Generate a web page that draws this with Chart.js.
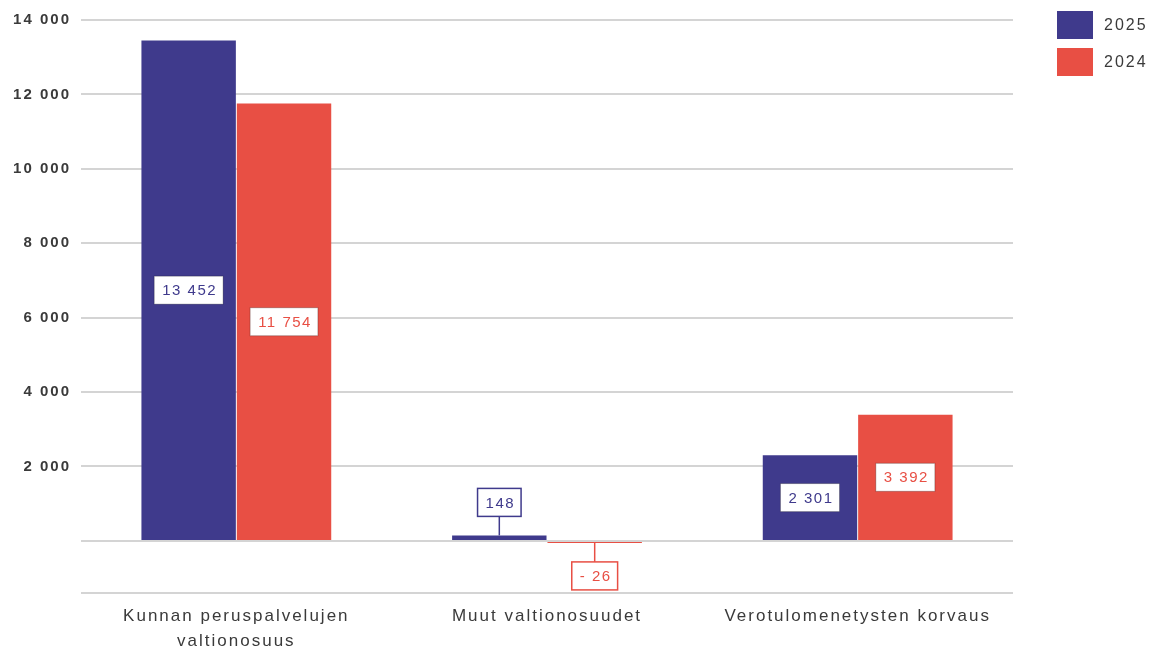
<!DOCTYPE html>
<html>
<head>
<meta charset="utf-8">
<script src="https://cdn.jsdelivr.net/npm/chart.js@4/dist/chart.umd.min.js"></script>
<style>
    html, body { margin: 0; padding: 0; background: #fff; }
    #chart { display: block; }
</style>
</head>
<body>
<canvas id="chart" width="1157" height="653"></canvas>
<script>
const categories = [
    ['Kunnan peruspalvelujen', 'valtionosuus'],
    'Muut valtionosuudet',
    'Verotulomenetysten korvaus'
];
const seriesNames = ['2025', '2024'];
const values2025 = [13452, 148, 2301];
const values2024 = [11754, -26, 3392];
const yTickValues = [-1400, 0, 2000, 4000, 6000, 8000, 10000, 12000, 14000];

const COLORS = {
    blue: '#3f3a8c',
    red: '#e84f44',
    grid: '#d4d4d4',
    text: '#3a3a3a'
};
const FONT = '"Liberation Sans", Arial, sans-serif';
const SPACING = '2px';

const fmt = (v) => {
    const s = Math.abs(v).toString().replace(/\B(?=(\d{3})+(?!\d))/g, ' ');
    return v < 0 ? '- ' + s : s;
};

// canvas letter spacing gets reset whenever the canvas resizes
const spacingPlugin = {
    id: 'spacing',
    beforeLayout(chart) { chart.ctx.letterSpacing = SPACING; },
    beforeDraw(chart) { chart.ctx.letterSpacing = SPACING; }
};

const valueLabels = {
    id: 'valueLabels',
    afterDatasetsDraw(chart) {
        const ctx = chart.ctx;
        ctx.save();
        ctx.font = `15px ${FONT}`;
        ctx.letterSpacing = '1.5px';
        ctx.textAlign = 'center';
        ctx.textBaseline = 'middle';
        chart.data.datasets.forEach((ds, i) => {
            const meta = chart.getDatasetMeta(i);
            meta.data.forEach((bar, j) => {
                const v = ds.data[j];
                const text = fmt(v);
                const w = ctx.measureText(text).width + 14;
                const h = 28;
                const x = bar.x;
                let cy;
                const inside = Math.abs(bar.base - bar.y) > 60;
                if (inside) {
                    cy = (bar.y + bar.base) / 2;
                } else if (v >= 0) {
                    cy = bar.y - 19 - h / 2;
                } else {
                    cy = bar.y + 19 + h / 2;
                }
                if (!inside) {
                    ctx.strokeStyle = ds.backgroundColor;
                    ctx.lineWidth = 1.5;
                    ctx.beginPath();
                    ctx.moveTo(x, bar.y);
                    ctx.lineTo(x, v >= 0 ? cy + h / 2 : cy - h / 2);
                    ctx.stroke();
                }
                ctx.fillStyle = '#fff';
                ctx.fillRect(x - w / 2, cy - h / 2, w, h);
                ctx.strokeStyle = inside ? 'rgba(0,0,0,0.25)' : ds.backgroundColor;
                ctx.lineWidth = inside ? 1 : 1.5;
                ctx.strokeRect(x - w / 2, cy - h / 2, w, h);
                ctx.fillStyle = ds.backgroundColor;
                ctx.fillText(text, x + 1, cy + 1);
            });
        });
        ctx.restore();
    }
};

const sideLegend = {
    id: 'sideLegend',
    afterDraw(chart) {
        const ctx = chart.ctx;
        ctx.save();
        ctx.font = `16px ${FONT}`;
        ctx.letterSpacing = '2px';
        ctx.textAlign = 'left';
        ctx.textBaseline = 'middle';
        chart.data.datasets.forEach((ds, i) => {
            const top = 11 + i * 37;
            ctx.fillStyle = ds.backgroundColor;
            ctx.fillRect(1057, top, 36, 28);
            ctx.fillStyle = COLORS.text;
            ctx.fillText(ds.label, 1104, top + 15);
        });
        ctx.restore();
    }
};

const chartEle = document.getElementById('chart');

new Chart(chartEle, {
    type: 'bar',
    data: {
        labels: categories,
        datasets: [{
            label: seriesNames[0],
            data: values2025,
            backgroundColor: COLORS.blue,
            borderWidth: 0,
            minBarLength: 2
        }, {
            label: seriesNames[1],
            data: values2024,
            backgroundColor: COLORS.red,
            borderWidth: 0,
            minBarLength: 2
        }]
    },
    options: {
        responsive: false,
        animation: false,
        datasets: {
            bar: {
                categoryPercentage: 0.614,
                barPercentage: 0.99
            }
        },
        layout: {
            padding: { top: 20, right: 144, left: 0, bottom: 0 }
        },
        plugins: {
            legend: { display: false },
            tooltip: { enabled: false }
        },
        scales: {
            x: {
                grid: { display: false },
                border: { display: false },
                ticks: {
                    color: COLORS.text,
                    padding: 3,
                    maxRotation: 0,
                    font: { family: FONT, size: 17, lineHeight: 1.45 }
                },
                afterFit: (scale) => { scale.height = 60; }
            },
            y: {
                min: yTickValues[0],
                max: yTickValues[yTickValues.length - 1],
                grid: {
                    color: COLORS.grid,
                    lineWidth: 2,
                    drawTicks: false
                },
                border: { display: false },
                ticks: {
                    padding: 10,
                    color: COLORS.text,
                    font: { family: FONT, size: 15, weight: 'bold' },
                    callback: (v) => v > 0 ? fmt(v) : ''
                },
                afterBuildTicks: (scale) => {
                    scale.ticks = yTickValues.map(v => ({ value: v }));
                },
                afterFit: (scale) => { scale.width = 81; }
            }
        }
    },
    plugins: [spacingPlugin, valueLabels, sideLegend]
});
</script>
</body>
</html>
